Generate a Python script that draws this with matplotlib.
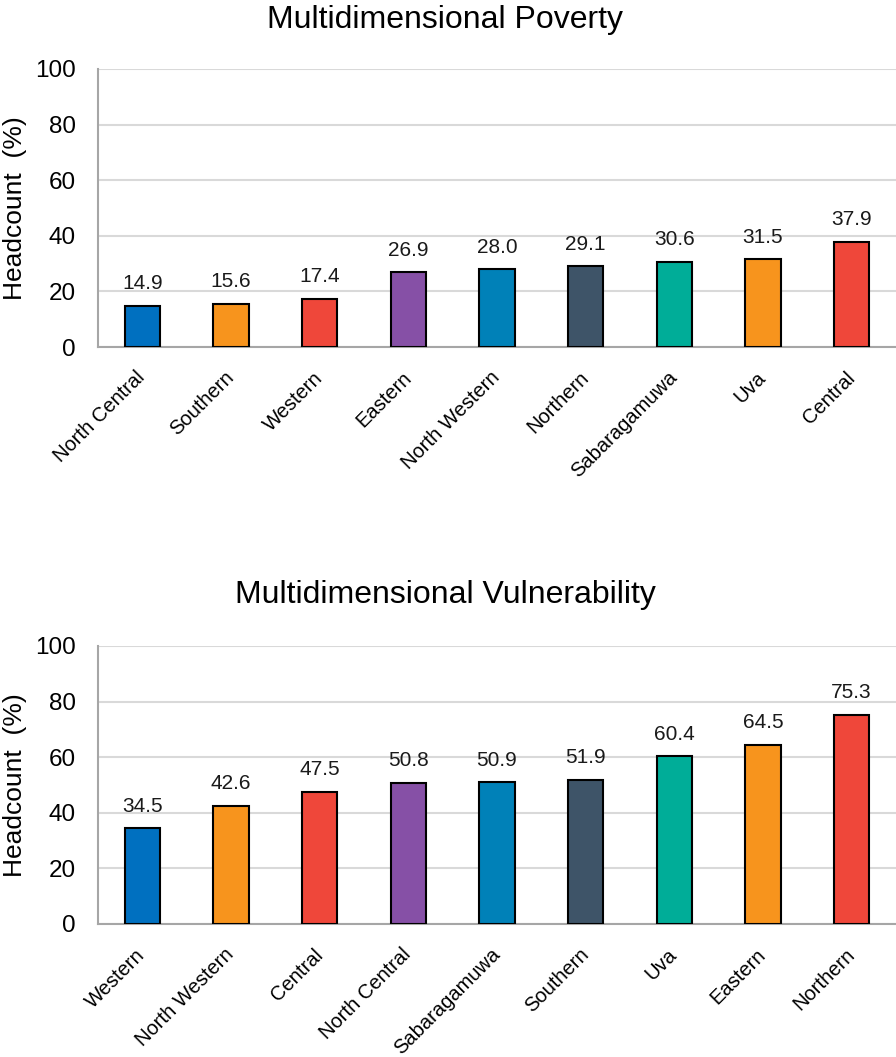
import matplotlib
matplotlib.use("Agg")
import matplotlib.pyplot as plt

plt.rcParams['font.family'] = ['Liberation Sans', 'DejaVu Sans']

poverty_regions = ["North Central", "Southern", "Western", "Eastern", "North Western",
                   "Northern", "Sabaragamuwa", "Uva", "Central"]
poverty_values = [14.9, 15.6, 17.4, 26.9, 28.0, 29.1, 30.6, 31.5, 37.9]

vuln_regions = ["Western", "North Western", "Central", "North Central", "Sabaragamuwa",
                "Southern", "Uva", "Eastern", "Northern"]
vuln_values = [34.5, 42.6, 47.5, 50.8, 50.9, 51.9, 60.4, 64.5, 75.3]

bar_colors = ["#0070C0", "#F7941D", "#EF473A", "#8650A6", "#0081B8",
              "#3E5468", "#00AD98", "#F7941D", "#EF473A"]

yticks = [0, 20, 40, 60, 80, 100]

fig = plt.figure(figsize=(8.96, 10.57), dpi=100)
ax1 = fig.add_axes([98/896, 710/1057, 798/896, 278/1057])
ax2 = fig.add_axes([98/896, 133/1057, 798/896, 278/1057])

def draw(ax, cats, vals):
    x = list(range(len(cats)))
    ax.bar(x, vals, width=0.4, color=bar_colors, edgecolor="black", linewidth=1.5, zorder=3)
    for xi, v in zip(x, vals):
        ax.annotate(f"{v:.1f}", (xi, v), xytext=(0, 9), textcoords="offset points",
                    ha="center", va="bottom", fontsize=15, color="#1a1a1a")
    ax.set_xlim(-0.5, len(cats) - 0.5)
    ax.set_ylim(0, 100)
    ax.set_yticks(yticks)
    ax.set_yticklabels([str(t) for t in yticks], fontsize=17.5)
    ax.set_xticks(x)
    ax.set_xticklabels(cats, rotation=45, ha="right", va="center", rotation_mode="anchor",
                       fontsize=14.5)
    ax.tick_params(axis="x", length=0, pad=20)
    ax.tick_params(axis="y", length=0, pad=16)
    ax.grid(axis="y", color="#d9d9d9", linewidth=1.5, zorder=0)
    ax.set_axisbelow(True)
    for s in ["top", "right"]:
        ax.spines[s].set_visible(False)
    for s in ["left", "bottom"]:
        ax.spines[s].set_color("#a6a6a6")
        ax.spines[s].set_linewidth(1.5)
    ax.set_ylabel("Headcount  (%)", fontsize=19, labelpad=6)

draw(ax1, poverty_regions, poverty_values)
draw(ax2, vuln_regions, vuln_values)

fig.text(445/896, 1 - 20/1057, "Multidimensional Poverty", ha="center", va="center", fontsize=23)
fig.text(445/896, 1 - 595/1057, "Multidimensional Vulnerability", ha="center", va="center", fontsize=23)

fig.savefig("out.png", dpi=100)
